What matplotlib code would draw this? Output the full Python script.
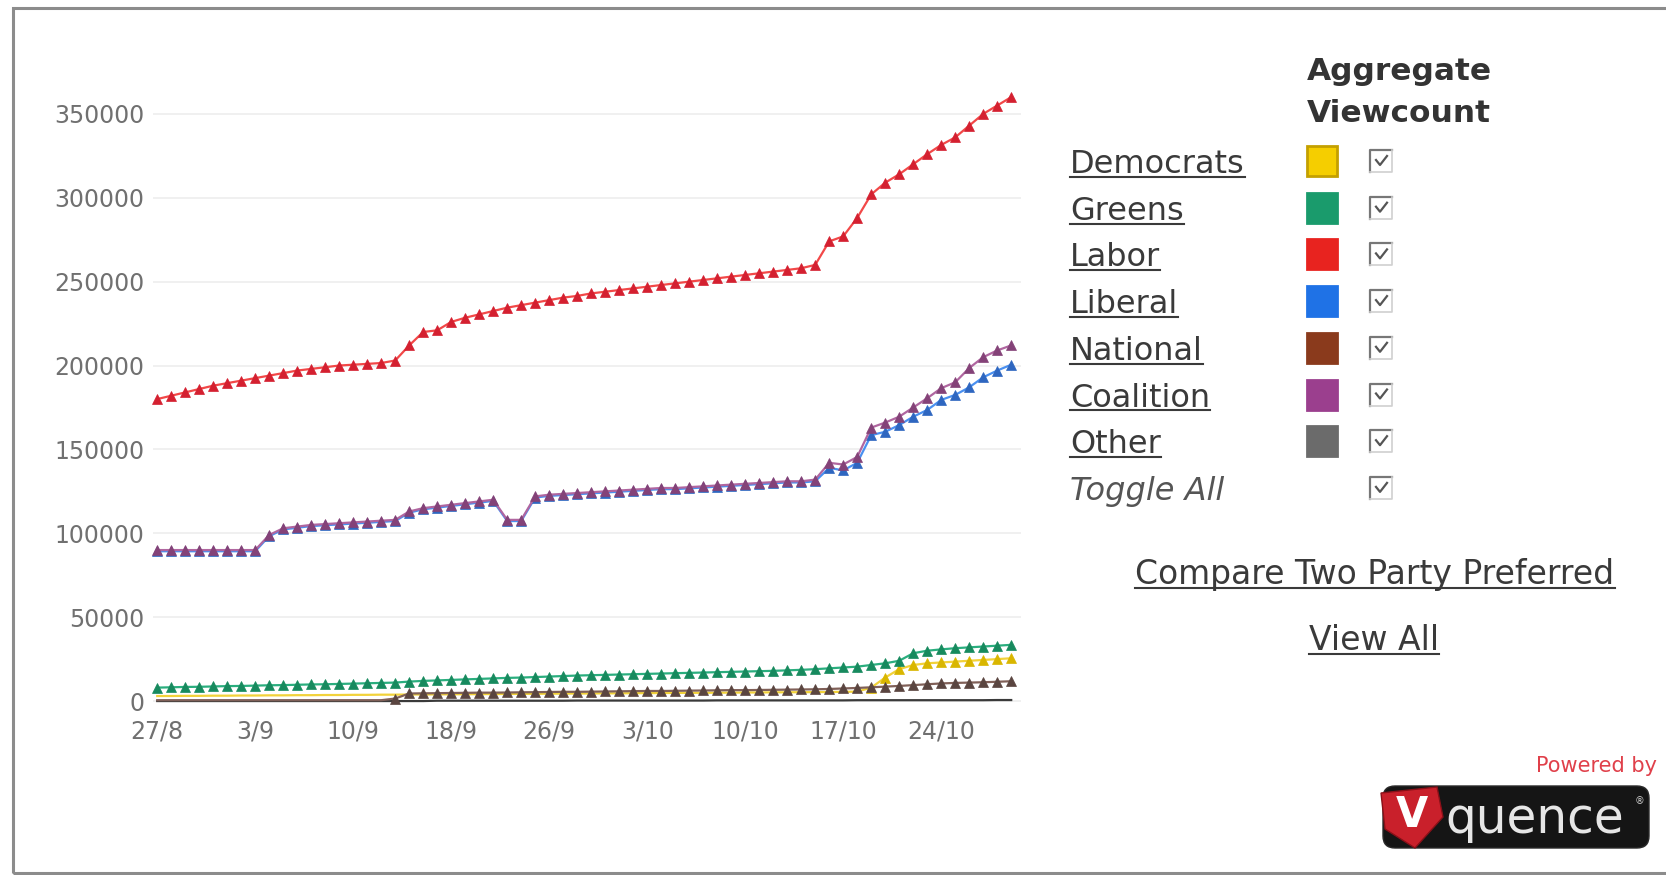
import matplotlib
matplotlib.use("Agg")
import matplotlib.pyplot as plt
from matplotlib.patches import Rectangle, FancyBboxPatch, Polygon
from matplotlib.lines import Line2D

# ---------------- data ----------------
x_labels = ["27/8", "3/9", "10/9", "18/9", "26/9", "3/10", "10/10", "17/10", "24/10"]
label_every = 7
y_ticks = [0, 50000, 100000, 150000, 200000, 250000, 300000, 350000]

labor = [180000, 182000, 184000, 186000, 188000, 189500, 191000, 192500,
         194000, 195500, 197000, 198000, 199000, 200000, 200500, 201000, 201500, 203000,
         212000, 220000, 221000, 226000, 228500, 230500, 232500, 234500, 236000, 237500,
         239000, 240500, 241500, 243000, 244000, 245000, 246000, 247000, 248000, 249000,
         250000, 251000, 252000, 253000, 254000, 255000, 256000, 257000, 258000, 260000,
         274000, 277000, 288000, 302000, 309000, 314000, 320000, 326000, 331500, 336000,
         343000, 350000, 355000, 360000]

coalition = [90000, 90000, 90000, 90000, 90000, 90000, 90000, 90000,
             99000, 103000, 104000, 105000, 105500, 106000, 106500, 107000, 107500, 108000,
             113000, 115000, 116000, 117000, 118000, 119000, 120000, 108000, 108000, 122000,
             123000, 123500, 124000, 124500, 125000, 125500, 126000, 126500, 127000, 127000,
             127500, 128000, 128500, 129000, 129500, 130000, 130500, 131000, 131000, 132000,
             142000, 141000, 145500, 163000, 166000, 169500, 175000, 180500, 186500, 190000,
             198500, 205000, 209000, 212000]

liberal = [89300, 89300, 89300, 89300, 89300, 89300, 89300, 89300,
           98300, 102300, 103300, 104300, 104800, 105300, 105800, 106300, 106800, 107300,
           112300, 114300, 115300, 116300, 117300, 118300, 119300, 107300, 107300, 121300,
           122300, 122800, 123300, 123800, 124300, 124800, 125300, 125800, 126300, 126300,
           126800, 127300, 127800, 128300, 128800, 129300, 129800, 130300, 130300, 131000,
           139000, 137500, 142000, 158500, 160500, 164500, 169500, 173500, 179500, 182500,
           187000, 193000, 197000, 200500]

greens = [8000, 8200, 8400, 8500, 8700, 8900, 9000, 9200,
          9400, 9500, 9700, 9900, 10000, 10200, 10400, 10600, 10800, 11000,
          11600, 12000, 12300, 12600, 12900, 13200, 13500, 13800, 14000, 14300,
          14600, 14900, 15200, 15400, 15600, 15800, 16000, 16200, 16400, 16600,
          16800, 17000, 17200, 17400, 17600, 17800, 18000, 18300, 18600, 19000,
          19500, 20000, 20500, 21500, 22500, 24000, 28500, 30000, 30800, 31500,
          32000, 32500, 33000, 33500]

democrats = [3000, 3000, 3100, 3100, 3200, 3200, 3300, 3300,
             3400, 3400, 3500, 3500, 3600, 3600, 3700, 3700, 3800, 3800,
             3900, 3900, 4000, 4000, 4100, 4100, 4200, 4200, 4300, 4300,
             4400, 4400, 4500, 4500, 4600, 4600, 4700, 4700, 4800, 4800,
             4900, 4900, 5000, 5000, 5100, 5100, 5200, 5200, 5300, 5300,
             5400, 5500, 5600, 8000, 14000, 19000, 21500, 22500, 23000, 23500,
             24000, 24500, 25000, 25500]

national = [500, 500, 500, 500, 500, 500, 500, 500,
            500, 500, 500, 500, 500, 500, 500, 500, 500, 1500,
            4500, 4600, 4700, 4800, 4900, 5000, 5000, 5100, 5200, 5300,
            5400, 5500, 5500, 5600, 5700, 5800, 5900, 6000, 6000, 6100,
            6200, 6300, 6400, 6500, 6500, 6600, 6700, 6800, 6900, 7000,
            7200, 7500, 7800, 8200, 8600, 9000, 9500, 10000, 10500, 10800,
            11000, 11200, 11500, 11800]

other = [0, 0, 0, 0, 0, 0, 0, 0, 0, 0, 0, 0, 0, 0, 0, 0, 0, 0, 0, 0,
         200, 200, 200, 200, 200, 200, 200, 200, 200, 200,
         300, 300, 300, 300, 300, 300, 300, 300, 300, 300,
         400, 400, 400, 400, 400, 400, 400, 400, 400, 400,
         500, 500, 500, 500, 500, 500, 500, 500, 500, 500, 600, 600]

party_names = ["Democrats", "Greens", "Labor", "Liberal", "National", "Coalition", "Other"]
party_colors = ["#F5CE00", "#1A9B6C", "#E8231F", "#1F72E6", "#8A3A1C", "#9B3F8E", "#6B6B6B"]
legend_header = "Aggregate\nViewcount"

# ---------------- figure ----------------
W, H = 1666, 875
fig = plt.figure(figsize=(W / 100, H / 100), dpi=100)
fig.patch.set_facecolor("white")


def fx(x):
    return x / W


def fy(y):
    return 1 - y / H


# outer frame
fig.patches.append(Rectangle((fx(13), fy(873)), 1.05 - fx(13), (873 - 8) / H,
                             transform=fig.transFigure, fill=False,
                             edgecolor="#8c8c8c", lw=2.2))

# ---------------- chart ----------------
ax = fig.add_axes([fx(153), fy(704.4), (1021 - 153) / W, (704.4 - 77) / H])
ax.set_xlim(-0.3, 61.7)
ax.set_ylim(-2000, 372000)
for s in ax.spines.values():
    s.set_visible(False)
ax.set_yticks(y_ticks)
ax.set_yticklabels([str(v) for v in y_ticks])
xs = list(range(len(labor)))
ax.set_xticks(xs[::label_every])
ax.set_xticklabels(x_labels)
ax.tick_params(length=0, labelsize=17, colors="#707070")
ax.tick_params(axis="y", pad=6)
ax.tick_params(axis="x", pad=11)
ax.yaxis.grid(True, color="#eeeeee", lw=1.2)
ax.set_axisbelow(True)

series = [
    ("Other", other, "#3a3a3a", "#3a3a3a", None, None),
    ("Democrats", democrats, "#F2D23A", "#D9B600", "^", slice(51, None)),
    ("Greens", greens, "#2AAE7E", "#178A5E", "^", None),
    ("National", national, "#806058", "#5a4540", "^", slice(17, None)),
    ("Liberal", liberal, "#4A90F0", "#2E66C0", "^", None),
    ("Coalition", coalition, "#B066A0", "#844278", "^", None),
    ("Labor", labor, "#F24848", "#D42030", "^", None),
]
for name, vals, lc, mc, mk, every in series:
    ax.plot(xs, vals, color=lc, lw=1.6, marker=mk, markersize=7,
            markerfacecolor=mc, markeredgecolor=mc, markeredgewidth=0.5,
            markevery=every, clip_on=False, zorder=3)

# ---------------- legend panel ----------------
fig.text(fx(1307), fy(72), legend_header.split("\n")[0], fontsize=22.5,
         fontweight="bold", color="#333333", va="center", ha="left")
fig.text(fx(1307), fy(113), legend_header.split("\n")[1], fontsize=22.5,
         fontweight="bold", color="#333333", va="center", ha="left")

row_base0 = 173
row_step = 46.7
underline_texts = []
for i, (name, col) in enumerate(zip(party_names, party_colors)):
    base = row_base0 + i * row_step
    t = fig.text(fx(1070), fy(base), name, fontsize=23, color="#3a3a3a",
                 va="baseline", ha="left")
    underline_texts.append((t, base))
    cy = base - 12
    edge = "#C4A000" if name == "Democrats" else col
    fig.patches.append(Rectangle((fx(1307), fy(cy + 15)), 30 / W, 30 / H,
                                 transform=fig.transFigure, facecolor=col,
                                 edgecolor=edge, lw=2))

toggle_base = row_base0 + len(party_names) * row_step
fig.text(fx(1070), fy(toggle_base), "Toggle All", fontsize=23, color="#555555",
         style="italic", va="baseline", ha="left")

# checkboxes
for i in range(len(party_names) + 1):
    cy = row_base0 + i * row_step - 12
    cx = 1381
    h = 11
    fig.lines.append(Line2D([fx(cx - h), fx(cx - h), fx(cx + h)],
                            [fy(cy + h), fy(cy - h), fy(cy - h)],
                            transform=fig.transFigure, color="#777777", lw=1.6))
    fig.lines.append(Line2D([fx(cx + h), fx(cx + h), fx(cx - h)],
                            [fy(cy - h), fy(cy + h), fy(cy + h)],
                            transform=fig.transFigure, color="#d0d0d0", lw=1.2))
    fig.lines.append(Line2D([fx(cx - 5), fx(cx - 1), fx(cx + 6)],
                            [fy(cy - 1), fy(cy + 4), fy(cy - 5)],
                            transform=fig.transFigure, color="#555555", lw=1.6))

t1 = fig.text(fx(1375), fy(584), "Compare Two Party Preferred", fontsize=23.8,
              color="#3a3a3a", va="baseline", ha="center")
underline_texts.append((t1, 584))
t2 = fig.text(fx(1374), fy(650), "View All", fontsize=23.8,
              color="#3a3a3a", va="baseline", ha="center")
underline_texts.append((t2, 650))

renderer = fig.canvas.get_renderer()
for t, base in underline_texts:
    bb = t.get_window_extent(renderer)
    fig.lines.append(Line2D([bb.x0 / W, bb.x1 / W], [fy(base + 4), fy(base + 4)],
                            transform=fig.transFigure, color="#3a3a3a", lw=1.5))

# ---------------- powered by logo ----------------
fig.text(fx(1657), fy(766), "Powered by", fontsize=15, color="#E0404A",
         ha="right", va="center")
lax = fig.add_axes([fx(1379), fy(851), 274 / W, 68 / H])
lax.set_xlim(0, 274)
lax.set_ylim(0, 68)
lax.axis("off")
lax.add_patch(FancyBboxPatch((4, 3), 266, 62, boxstyle="round,pad=0,rounding_size=12",
                             facecolor="#151515", edgecolor="#2a2a2a", lw=1))
lax.add_patch(Polygon([(2, 58), (58, 64), (64, 34), (36, 3), (6, 22)], closed=True,
                      facecolor="#C9202B", edgecolor="#8a1018", lw=1))
lax.text(33, 36, "V", fontsize=30, fontweight="bold", color="white",
         ha="center", va="center")
lax.text(66, 32, "quence", fontsize=35, color="#e6e6e6", ha="left", va="center")
lax.text(260, 50, "\u00ae", fontsize=7, color="#cccccc", ha="center", va="center")

fig.savefig("out.png", dpi=100)
